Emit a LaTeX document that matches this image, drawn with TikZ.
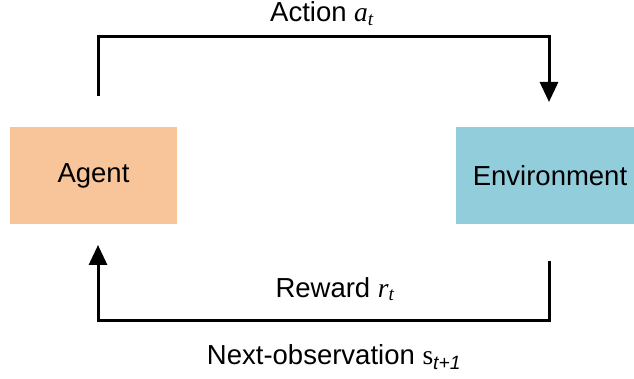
\documentclass[tikz,border=0pt]{standalone}
\usepackage{fontspec}
\setmainfont{Liberation Sans}
\newfontfamily\serfam{Liberation Serif}
\usetikzlibrary{arrows.meta}
\definecolor{agentcol}{HTML}{F8C59B}
\definecolor{envcol}{HTML}{92CDDC}
\begin{document}
\begin{tikzpicture}[x=1pt,y=-1pt,
  box/.style={draw=none,minimum width=#1,minimum height=97pt,inner sep=0pt,font=\fontsize{27.5}{33}\selectfont},
  conn/.style={line width=3pt,-{Triangle[length=20pt,width=18pt]}},
  lbl/.style={font=\fontsize{27.5}{33}\selectfont,inner sep=0pt}]
\useasboundingbox (0,0) rectangle (634,379);
\node[box=167pt,fill=agentcol] (agent) at (93.5,175.5) {Agent};
\node[box=178pt,fill=envcol] (env) at (545,175.5) {\hspace*{10pt}Environment};
\coordinate (a0) at (98,96);
\coordinate (a1) at (98,37);
\coordinate (a2) at (549,37);
\coordinate (a3) at (549,102);
\coordinate (b0) at (549,261);
\coordinate (b1) at (549,320);
\coordinate (b2) at (98,320);
\coordinate (b3) at (98,245);
\draw[conn] (a0) -- (a1) -- (a2) -- (a3);
\draw[conn] (b0) -- (b1) -- (b2) -- (b3);
\node[lbl] (act) at (322,14) {Action {\serfam\itshape a}\textsubscript{\serfam\itshape t}};
\node[lbl] (rew) at (335,289) {Reward {\serfam\itshape r}\textsubscript{\serfam\itshape t}};
\node[lbl] (obs) at (334,357) {Next-observation {\serfam s}\textsubscript{\itshape t+1}};
\end{tikzpicture}
\end{document}
